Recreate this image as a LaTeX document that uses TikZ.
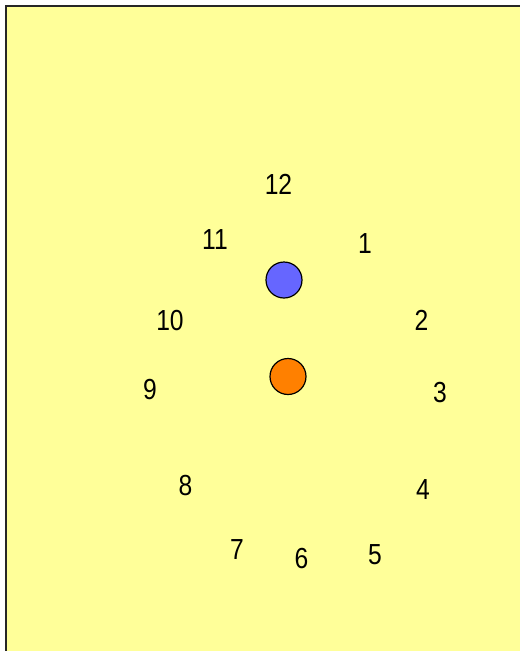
\documentclass[tikz,border=0pt]{standalone}
\usepackage{fontspec}
\setmainfont{Liberation Sans}
\definecolor{bgyellow}{HTML}{FFFF99}
\definecolor{dotblue}{HTML}{6666FF}
\definecolor{dotorange}{HTML}{FF8000}
\begin{document}
\begin{tikzpicture}[x=1pt,y=-1pt,
  num/.style={inner sep=0pt, font=\fontsize{29}{29}\selectfont},
  dot/.style={circle, draw=black, line width=1.2pt, minimum size=36pt, inner sep=0pt}]
\useasboundingbox (0,0) rectangle (520,651);
\fill[white] (0,0) rectangle (520,651);
\fill[bgyellow] (6,6) rectangle (520,651);
\draw[line width=2pt, black!85] (6,651) -- (6,6) -- (520,6);
\node[dot, fill=dotblue] (blue) at (284,280) {};
\node[dot, fill=dotorange] (orange) at (288,376.5) {};
\node[num] (n12) at (278.5,184) {\scalebox{0.85}[1]{12}};
\node[num] (n1) at (365,244) {\scalebox{0.85}[1]{1}};
\node[num] (n2) at (421.5,320.5) {\scalebox{0.85}[1]{2}};
\node[num] (n3) at (440,393) {\scalebox{0.85}[1]{3}};
\node[num] (n4) at (423,490) {\scalebox{0.85}[1]{4}};
\node[num] (n5) at (375,554.5) {\scalebox{0.85}[1]{5}};
\node[num] (n6) at (301.5,558.5) {\scalebox{0.85}[1]{6}};
\node[num] (n7) at (237,550) {\scalebox{0.85}[1]{7}};
\node[num] (n8) at (185.5,486) {\scalebox{0.85}[1]{8}};
\node[num] (n9) at (150,390) {\scalebox{0.85}[1]{9}};
\node[num] (n10) at (170,321) {\scalebox{0.85}[1]{10}};
\node[num] (n11) at (215,240) {\scalebox{0.85}[1]{11}};
\end{tikzpicture}
\end{document}
